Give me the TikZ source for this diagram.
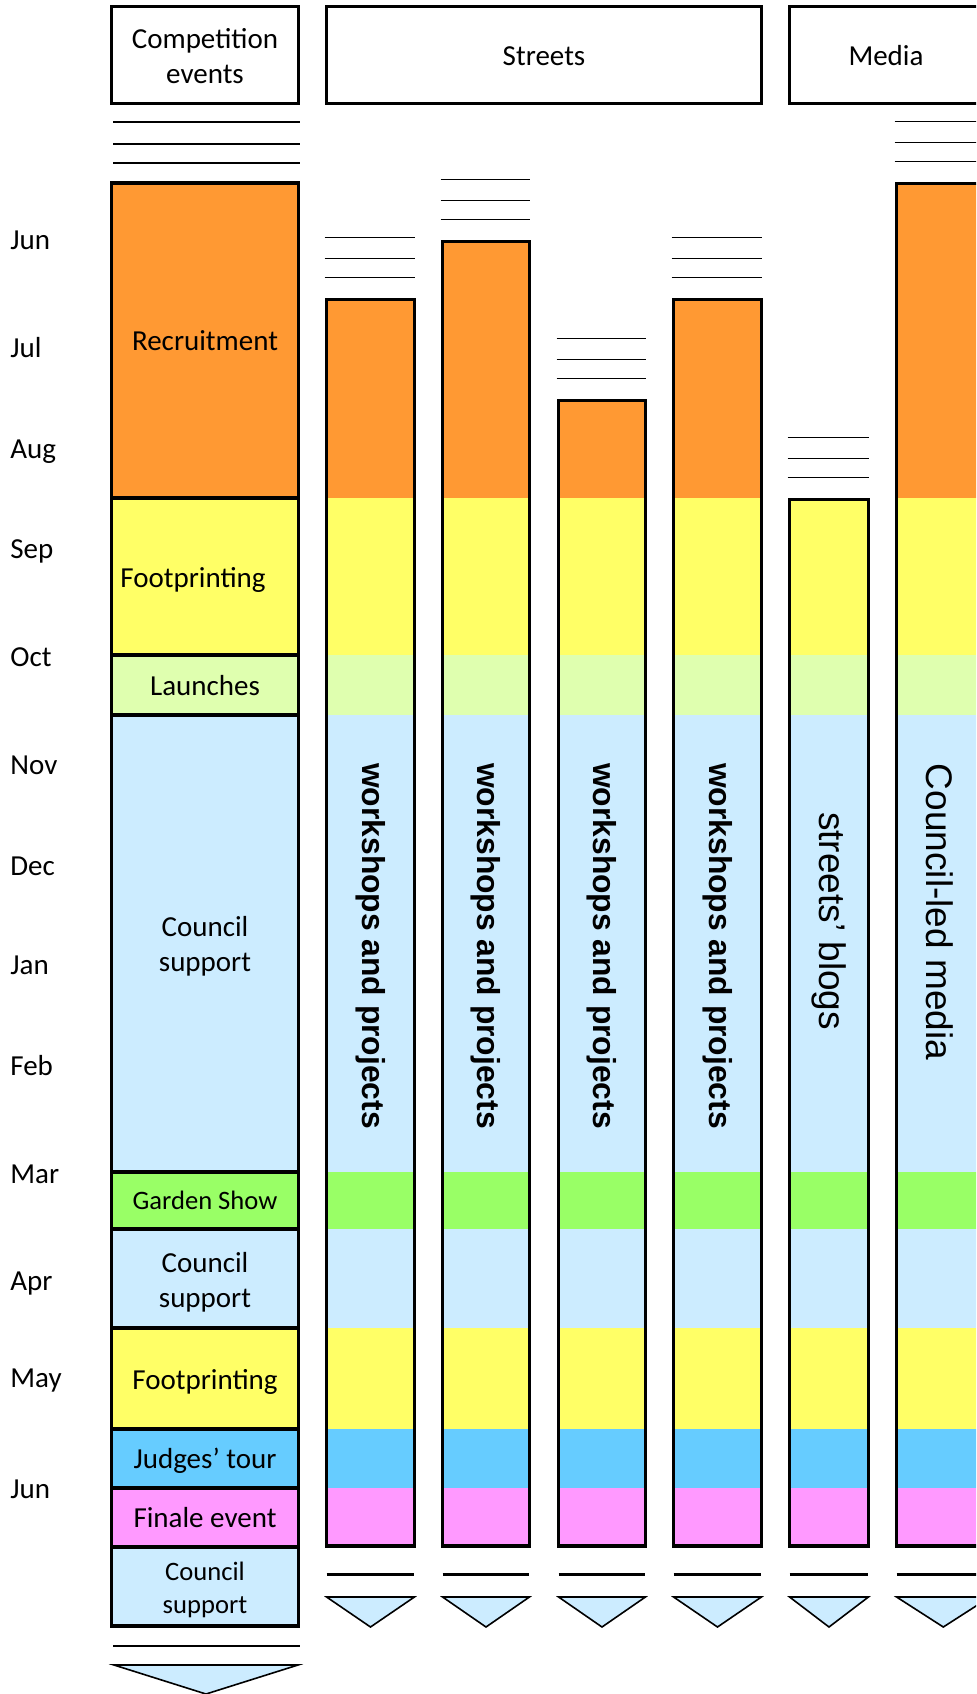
\documentclass[tikz,border=0pt]{standalone}
\usepackage{fontspec}
\setmainfont{Carlito}
\newfontfamily\arialfont{Liberation Sans}
\usepackage{tikz}

\definecolor{recruitorange}{HTML}{FF9933}
\definecolor{footyellow}{HTML}{FFFF66}
\definecolor{launchgreen}{HTML}{DFFFAF}
\definecolor{supportblue}{HTML}{CCECFF}
\definecolor{gardengreen}{HTML}{99FF66}
\definecolor{judgesblue}{HTML}{66CCFF}
\definecolor{finalepink}{HTML}{FF99FF}

\begin{document}
\begin{tikzpicture}[x=0.5pt, y=-0.5pt,
    colframe/.style={draw=black, line width=1.6pt},
    breakline/.style={draw=black, line width=0.8pt},
    endline/.style={draw=black, line width=1.5pt},
    endarrow/.style={draw=black, fill=supportblue, line width=0.8pt},
    txt/.style={font=\fontsize{14.5}{17.5}\selectfont, align=center, inner sep=0pt},
    smalltxt/.style={font=\fontsize{13.3}{16.5}\selectfont, align=center, inner sep=0pt},
    month/.style={txt, anchor=base west},
    boldvert/.style={font=\arialfont\bfseries\fontsize{15.9}{19}\selectfont, rotate=-90, inner sep=0pt},
    vert/.style={font=\arialfont\fontsize{18.5}{22}\selectfont, rotate=-90, inner sep=0pt}
  ]
  \useasboundingbox (0,0) rectangle (976,1694);
  \fill[white] (0,0) rectangle (976,1694);
  \clip (0,0) rectangle (976,1694);

  % Column headings
  \draw[colframe] (111.6,6.6) rectangle (298.4,103.4);
  \node[txt] (hcomp) at (205,56) {Competition\\events};
  \draw[colframe] (326.6,6.6) rectangle (761.4,103.4);
  \node[txt, anchor=base] (hstreets) at (544,65) {Streets};
  \draw[colframe] (789.6,6.6) rectangle (990,103.4);
  \node[txt, anchor=base] (hmedia) at (886,65) {Media};

  % Months down the left side
  \foreach \m/\y [count=\i] in {Jun/249, Jul/357, Aug/458, Sep/558, Oct/666, Nov/774,
      Dec/875, Jan/974, Feb/1075, Mar/1183, Apr/1290, May/1387, Jun/1498}
    \node[month] (m\i) at (10,\y) {\m};

  % Competition events column
  \foreach \d in {122,144,163}
    \draw[breakline] (113,\d) -- (300,\d);
  \foreach \a/\b/\c in {183/498/recruitorange, 498/655/footyellow, 655/715/launchgreen,
      715/1172/supportblue, 1172/1229/gardengreen, 1229/1328/supportblue,
      1328/1429/footyellow, 1429/1488/judgesblue, 1488/1547/finalepink,
      1547/1626/supportblue}
    \filldraw[colframe, fill=\c] (111.6,\a) rectangle (298.4,\b);
  \draw[breakline, line width=1pt] (113,1646) -- (300,1646);
  \filldraw[endarrow] (114,1665) -- (298,1665) -- (206,1694) -- cycle;

  \node[txt, anchor=base] (recruit) at (205,350) {Recruitment};
  \node[txt, anchor=base west] (foot1) at (120,587) {Footprinting};
  \node[txt, anchor=base] (launch) at (205,695) {Launches};
  \node[txt] (support1) at (205,946) {Council\\support};
  \node[smalltxt, anchor=base] (garden) at (205,1209) {Garden Show};
  \node[txt] (support2) at (205,1282) {Council\\support};
  \node[txt, anchor=base] (foot2) at (205,1389) {Footprinting};
  \node[txt, anchor=base] (judges) at (205,1468) {Judges’ tour};
  \node[txt, anchor=base] (finale) at (205,1527) {Finale event};
  \node[smalltxt] (support3) at (205,1590) {Council\\support};

  % Street and media columns: left, right, top
  \foreach \l/\r/\t in {326.6/414.4/299.5, 442.6/529.4/241.5, 558.6/645.4/400.5,
      673.6/761.4/299.5, 789.6/868.4/499.5, 896.6/990/183.5} {
    \foreach \d in {62,41,22}
      \draw[breakline] (\l-2,\t-\d) -- (\r+1,\t-\d);
    \fill[recruitorange] (\l,\t) rectangle (\r,498);
    \foreach \a/\b/\c in {498/655/footyellow, 655/715/launchgreen,
        715/1172/supportblue, 1172/1229/gardengreen, 1229/1328/supportblue,
        1328/1429/footyellow, 1429/1488/judgesblue, 1488/1546/finalepink}
      \fill[\c] (\l,\a) rectangle (\r,\b);
    \draw[colframe] (\l,\t) rectangle (\r,1546);
    \draw[endline] (\l,1574) -- (\r,1574);
    \filldraw[endarrow] (\l,1597) -- (\r,1597) -- ({(\l+\r)/2},1627) -- cycle;
  }

  % Vertical labels
  \node[boldvert] (ws1) at (370.5,946) {workshops and projects};
  \node[boldvert] (ws2) at (486,946) {workshops and projects};
  \node[boldvert] (ws3) at (602,946) {workshops and projects};
  \node[boldvert] (ws4) at (717.5,946) {workshops and projects};
  \node[vert] (blogs) at (829,921) {streets’ blogs};
  \node[vert] (media) at (940,912) {Council-led media};
\end{tikzpicture}
\end{document}
